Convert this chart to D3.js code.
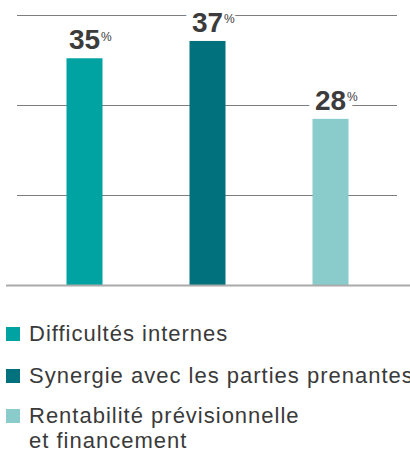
<!DOCTYPE html>
<html>
<head>
<meta charset="utf-8">
<script src="https://cdn.jsdelivr.net/npm/d3@7"></script>
<style>
  html, body { margin: 0; padding: 0; background: #fff; }
  svg { display: block; }
  text { font-family: "Liberation Sans", Arial, Helvetica, sans-serif; }
</style>
</head>
<body>
<svg id="chart" width="410" height="454"></svg>
<script>
// Share of respondents by main obstacle
const categories = ["Difficultés internes", "Synergie avec les parties prenantes", "Rentabilité prévisionnelle et financement"];
const values = [35, 37, 28];
const colors = ["#00a3a1", "#00717d", "#89cccb"];
const legendLines = [["Difficultés internes"], ["Synergie avec les parties prenantes"], ["Rentabilité prévisionnelle", "et financement"]];

const svg = d3.select("#chart");
const W = 410, H = 454;
const baseY = 285, topY = 15;

const x = d3.scalePoint().domain(categories).range([23, 392]).padding(0.5);
const y = d3.scaleLinear().domain([8.8, 40]).range([baseY, topY]);
const grid = d3.scaleLinear().domain([0, 3]).range([baseY, topY]);
const barW = 36;

// gridlines
svg.append("g").selectAll("line").data([1, 2, 3]).join("line")
  .attr("x1", 17).attr("x2", 397)
  .attr("y1", d => Math.round(grid(d)) + 0.5).attr("y2", d => Math.round(grid(d)) + 0.5)
  .attr("stroke", "#7d7d7d").attr("stroke-width", 1);

// bars
svg.append("g").selectAll("rect").data(values).join("rect")
  .attr("x", (d, i) => x(categories[i]) - barW / 2)
  .attr("y", d => y(d))
  .attr("width", barW)
  .attr("height", d => baseY - y(d))
  .attr("fill", (d, i) => colors[i]);

// baseline
svg.append("line")
  .attr("x1", 6).attr("x2", W).attr("y1", baseY + 0.5).attr("y2", baseY + 0.5)
  .attr("stroke", "#aaaaaa").attr("stroke-width", 2);

// value labels with a white halo over gridlines
const labels = svg.append("g").selectAll("g").data(values).join("g");
labels.each(function (d, i) {
  const g = d3.select(this);
  const cx = x(categories[i]);
  const by = y(d) - 9;
  const num = g.append("text")
    .attr("x", cx).attr("y", by)
    .attr("text-anchor", "middle")
    .attr("font-size", 28).attr("font-weight", "bold")
    .attr("fill", "#3c3c3c")
    .attr("stroke", "#fff").attr("stroke-width", 14).attr("stroke-linejoin", "round")
    .attr("paint-order", "stroke")
    .text(d);
  const w = num.node().getComputedTextLength();
  g.append("text")
    .attr("x", cx + w / 2 + 1).attr("y", by - 8.5)
    .attr("font-size", 12)
    .attr("fill", "#3c3c3c")
    .attr("stroke", "#fff").attr("stroke-width", 5).attr("stroke-linejoin", "round")
    .attr("paint-order", "stroke")
    .text("%");
});

// legend
const rowY = [341, 383, 423];
const legend = svg.append("g").selectAll("g").data(categories).join("g")
  .attr("transform", (d, i) => `translate(0,${rowY[i]})`);
legend.append("rect")
  .attr("x", 6).attr("y", -14).attr("width", 14).attr("height", 14)
  .attr("fill", (d, i) => colors[i]);
legend.append("text")
  .attr("x", 29).attr("y", 0)
  .attr("font-size", 22).attr("letter-spacing", 1.0)
  .attr("fill", "#3a3a3a")
  .selectAll("tspan").data((d, i) => legendLines[i]).join("tspan")
  .attr("x", 29).attr("dy", (t, j) => j === 0 ? 0 : 25)
  .text(t => t);
</script>
</body>
</html>
